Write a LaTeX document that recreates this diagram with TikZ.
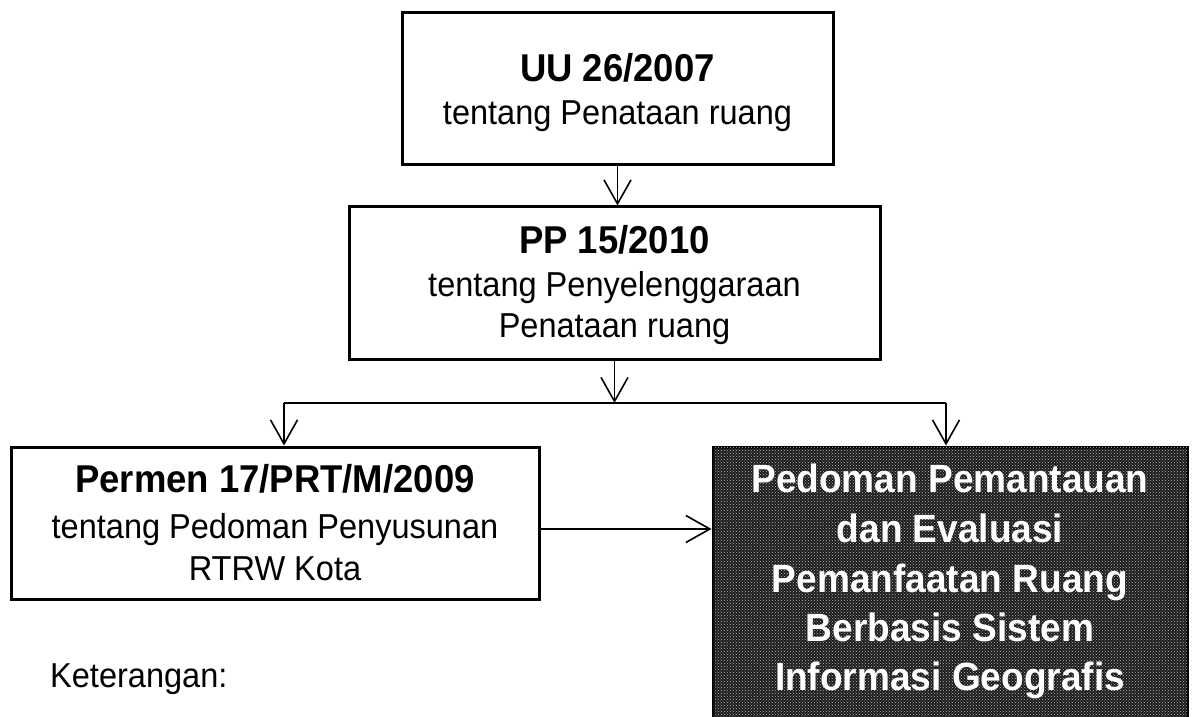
\documentclass[tikz,border=0pt]{standalone}
\usepackage{fontspec}
\setmainfont{Liberation Sans}[FakeStretch=0.94]
\usetikzlibrary{arrows.meta,patterns}
\definecolor{darkfill}{RGB}{28,28,28}
\begin{document}
\begin{tikzpicture}[x=1pt,y=1pt,
  box/.style={draw=black, line width=3pt, inner sep=0pt},
  conn/.style={line width=1.6pt},
  arr/.style={conn, -{Straight Barb[length=24pt,width=27pt,line width=1.6pt]}},
  ttl/.style={anchor=base, inner sep=0pt, font=\fontsize{38.8}{42}\selectfont\bfseries},
  txt/.style={anchor=base, inner sep=0pt, font=\fontsize{34.6}{38}\selectfont},
  wtxt/.style={anchor=base, inner sep=0pt, text=white, font=\fontsize{39.4}{44}\selectfont\bfseries}]
\useasboundingbox[fill=white] (0,0) rectangle (1192,716);

% boxes
\node[box, minimum width=431pt, minimum height=152pt] (uu) at (617.5,627) {};
\node[box, minimum width=531pt, minimum height=153pt] (pp) at (614.5,432.5) {};
\node[box, minimum width=528pt, minimum height=152pt] (permen) at (275,193) {};
\node[box, fill=darkfill, postaction={pattern=crosshatch dots, pattern color=gray!55}, minimum width=474pt, minimum height=272pt] (pedoman) at (950,133) {};

% texts
\node[ttl] (uu1) at (617.5,634) {UU 26/2007};
\node[txt] (uu2) at (617.5,591) {tentang Penataan ruang};
\node[ttl] (pp1) at (614.5,462) {PP 15/2010};
\node[txt] (pp2) at (614.5,419) {tentang Penyelenggaraan};
\node[txt] (pp3) at (614.5,378) {Penataan ruang};
\node[ttl] (pm1) at (275,224) {Permen 17/PRT/M/2009};
\node[txt] (pm2) at (275,178) {tentang Pedoman Penyusunan};
\node[txt] (pm3) at (275,136) {RTRW Kota};
\node[wtxt] (pd1) at (950,224) {Pedoman Pemantauan};
\node[wtxt] (pd2) at (950,174) {dan Evaluasi};
\node[wtxt] (pd3) at (950,124) {Pemanfaatan Ruang};
\node[wtxt] (pd4) at (950,75) {Berbasis Sistem};
\node[wtxt] (pd5) at (950,26) {Informasi Geografis};
\node[txt, anchor=base west] (ket) at (50,29) {Keterangan:};

% connectors
\coordinate (jm) at (614.5,313);
\coordinate (jl) at (284,313);
\coordinate (jr) at (946,313);
\draw[arr] (uu.south) -- (uu.south |- pp.north);
\draw[arr] (pp.south) -- (jm);
\draw[conn] (jl) -- (jr);
\draw[arr] (jl) -- (jl |- permen.north);
\draw[arr] (jr) -- (jr |- pedoman.north);
\draw[arr] (permen.east |- 0,187) -- (pedoman.west |- 0,187);
\end{tikzpicture}
\end{document}
